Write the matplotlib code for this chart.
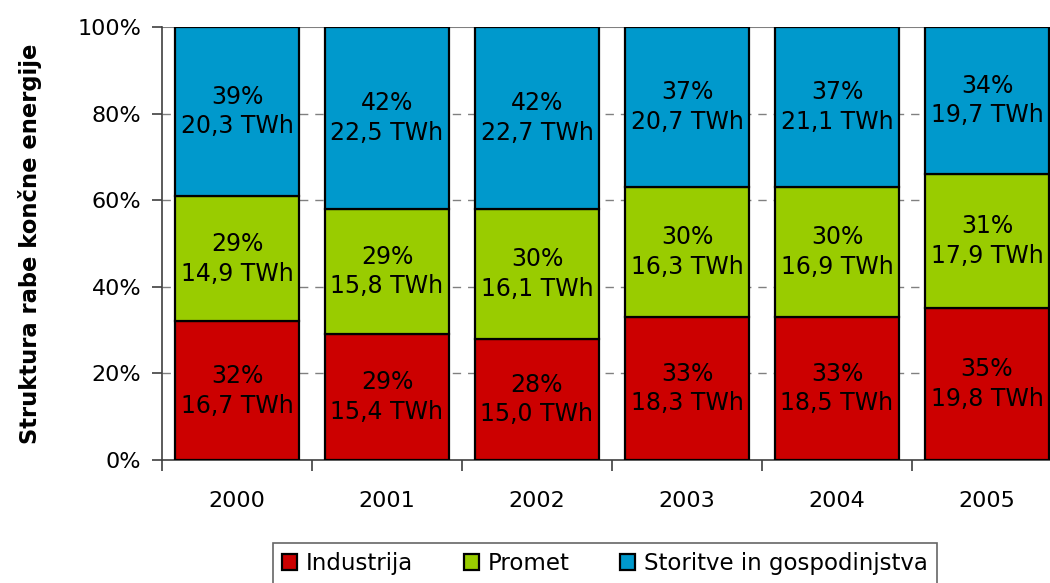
import matplotlib.pyplot as plt
import numpy as np

# final energy use by sector, Slovenia
years = ['2000', '2001', '2002', '2003', '2004', '2005']
sectors = ['Industrija', 'Promet', 'Storitve in gospodinjstva']

industrija_twh = [16.7, 15.4, 15.0, 18.3, 18.5, 19.8]
promet_twh = [14.9, 15.8, 16.1, 16.3, 16.9, 17.9]
storitve_twh = [20.3, 22.5, 22.7, 20.7, 21.1, 19.7]

industrija_pct = [32, 29, 28, 33, 33, 35]
promet_pct = [29, 29, 30, 30, 30, 31]
storitve_pct = [39, 42, 42, 37, 37, 34]

colors = ['#CC0000', '#99CC00', '#0099CC']

plt.rcParams['font.family'] = ['DejaVu Sans']

fig = plt.figure(figsize=(10.5, 5.83), dpi=100)
ax = fig.add_axes([162 / 1050, 123 / 583, 900 / 1050, 433 / 583])

x = np.arange(len(years))
bottom = np.zeros(len(years))
handles = []
for pct, twh, col, name in zip([industrija_pct, promet_pct, storitve_pct],
                               [industrija_twh, promet_twh, storitve_twh],
                               colors, sectors):
    bars = ax.bar(x, pct, 0.83, bottom=bottom, color=col, edgecolor='black',
                  linewidth=1.6, label=name, zorder=3)
    handles.append(bars)
    for xi, b, p, t in zip(x, bottom, pct, twh):
        txt = '%d%%\n%s TWh' % (p, ('%.1f' % t).replace('.', ','))
        ax.text(xi, b + p / 2, txt, ha='center', va='center', fontsize=17,
                linespacing=1.3, zorder=4)
    bottom += np.array(pct)

ax.set_xlim(-0.5, len(years) - 0.5)
ax.set_ylim(0, 100)
ax.set_yticks([0, 20, 40, 60, 80, 100])
ax.set_yticklabels(['%d%%' % v for v in [0, 20, 40, 60, 80, 100]], fontsize=16)

# gridlines: dashed, top one solid
for v in [20, 40, 60, 80]:
    ax.axhline(v, color='#808080', linestyle=(0, (6, 5)), linewidth=1.0, zorder=1)
ax.axhline(100, color='#808080', linewidth=1.5, zorder=1)

ax.set_xticks(x)
ax.set_xticklabels(years, fontsize=16)
ax.tick_params(axis='x', length=0, pad=22)
ax.set_xticks(np.arange(-0.5, len(years)), minor=True)
ax.tick_params(axis='x', which='minor', length=8, width=1.2, color='#404040')
ax.tick_params(axis='y', length=7, width=1.2, color='#404040', pad=8)

for s in ['top', 'right']:
    ax.spines[s].set_visible(False)
ax.spines['left'].set_color('#404040')
ax.spines['left'].set_linewidth(1.2)
ax.spines['bottom'].set_color('#404040')
ax.spines['bottom'].set_linewidth(1.2)

fig.text(30 / 1050, 1 - 244 / 583, 'Struktura rabe končne energije', rotation=90,
         ha='center', va='center', fontsize=16.3, fontweight='bold')

leg = fig.legend(handles=handles, loc='upper center', ncol=3,
                 bbox_to_anchor=(605 / 1050, 1 - 543 / 583), borderaxespad=0,
                 fontsize=16.5, frameon=True, fancybox=False,
                 handlelength=0.65, handleheight=0.65, handletextpad=0.4,
                 columnspacing=2.2, borderpad=0.4)
leg.get_frame().set_edgecolor('#404040')
leg.get_frame().set_linewidth(1.2)

fig.savefig('out.png', dpi=100)
